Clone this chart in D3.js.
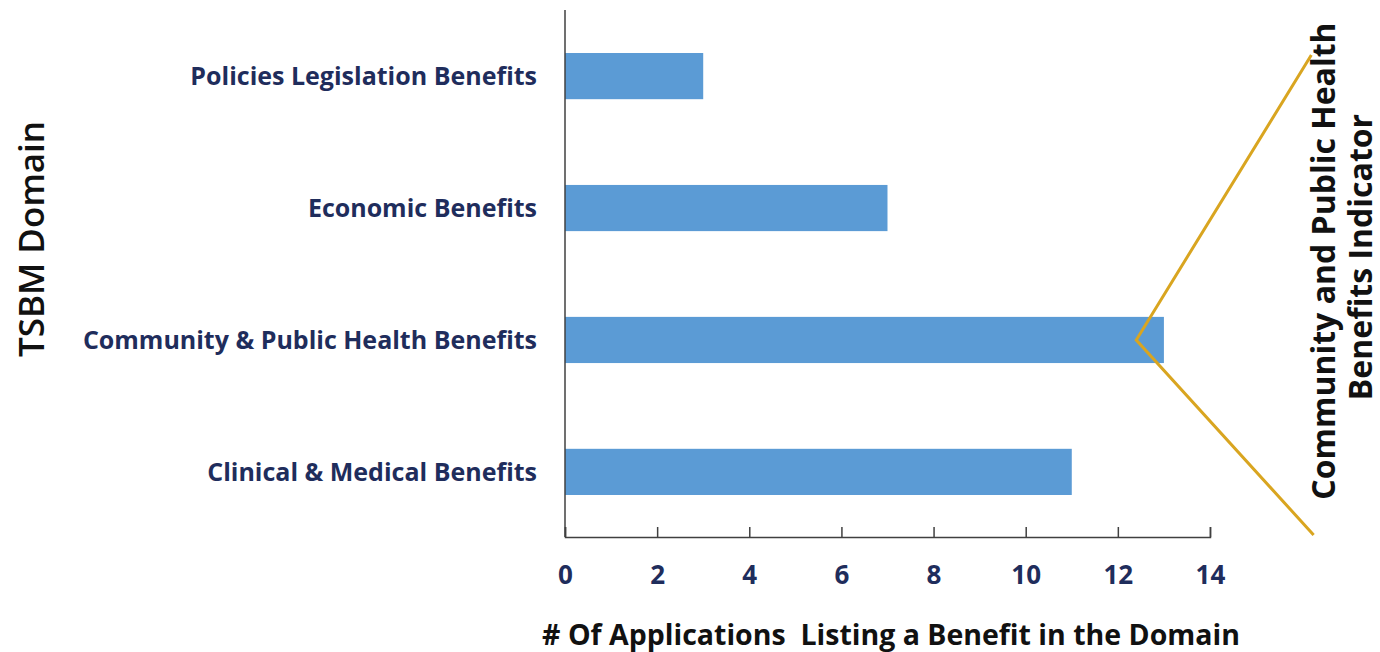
<!DOCTYPE html>
<html>
<head>
<meta charset="utf-8">
<script src="https://cdn.jsdelivr.net/npm/d3@7"></script>
<style>
  body { margin: 0; background: #fff; }
  text { font-family: "Open Sans", Lato, sans-serif; }
</style>
</head>
<body>
<svg id="chart"></svg>
<script>
var categories = ["Policies Legislation Benefits", "Economic Benefits",
                  "Community & Public Health Benefits", "Clinical & Medical Benefits"];
var counts = [3, 7, 13, 11];
var xTicks = [0, 2, 4, 6, 8, 10, 12, 14];
var calloutLines = ["Community and Public Health", "Benefits Indicator"];

var width = 1380, height = 652;
var margin = {top: 10, right: 170, bottom: 114, left: 565};

var svg = d3.select("svg#chart")
            .attr("width", width)
            .attr("height", height);

var x = d3.scaleLinear().domain([0, 14]).range([margin.left, margin.left + 14 * 46.07]);
var y = d3.scaleBand().domain(categories)
          .range([margin.top, 538])
          .paddingInner(0.65).paddingOuter(0.326);

var axisY = height - margin.bottom - 1;

// bars
svg.selectAll(".bar")
   .data(categories)
   .enter().append("rect")
   .attr("class", "bar")
   .attr("x", x(0))
   .attr("y", function(d) { return y(d); })
   .attr("width", function(d, i) { return x(counts[i]) - x(0); })
   .attr("height", y.bandwidth())
   .attr("fill", "#5b9bd5");

// x axis, ticks point upward
var xAxis = svg.append("g")
   .attr("transform", "translate(0," + axisY + ")")
   .call(d3.axisBottom(x).tickValues(xTicks).tickSizeInner(-10).tickSizeOuter(-10).tickPadding(29));
xAxis.select(".domain").attr("stroke", "#404040").attr("stroke-width", 1.5);
xAxis.selectAll(".tick line").attr("stroke", "#404040").attr("stroke-width", 1.5);
xAxis.selectAll(".tick text")
     .attr("fill", "#1f2d5c")
     .attr("font-size", 26)
     .attr("font-weight", "bold");

// y axis line only
svg.append("line")
   .attr("x1", x(0)).attr("x2", x(0))
   .attr("y1", margin.top).attr("y2", axisY)
   .attr("stroke", "#404040").attr("stroke-width", 1.5);

// category labels
svg.selectAll(".cat")
   .data(categories)
   .enter().append("text")
   .attr("class", "cat")
   .attr("x", x(0) - 28)
   .attr("y", function(d) { return y(d) + y.bandwidth() / 2; })
   .attr("dy", "0.35em")
   .attr("text-anchor", "end")
   .attr("fill", "#1f2d5c")
   .attr("font-size", 25)
   .attr("font-weight", "bold")
   .text(function(d) { return d; });

// axis titles
svg.append("text")
   .attr("transform", "translate(44," + 239 + ") rotate(-90)")
   .attr("text-anchor", "middle")
   .attr("font-size", 35)
   .attr("font-weight", 600)
   .attr("fill", "#111")
   .text("TSBM Domain");

svg.append("text")
   .attr("x", 891)
   .attr("y", 645)
   .attr("text-anchor", "middle")
   .attr("font-size", 28.5)
   .attr("font-weight", "bold")
   .attr("fill", "#111")
   .style("white-space", "pre")
   .text("# Of Applications  Listing a Benefit in the Domain");

// callout for the community bar
var cy = y("Community & Public Health Benefits") + y.bandwidth() / 2;
var callout = [[x(16.2), margin.top + 45], [x(12.4), cy], [x(16.25), axisY - 2]];
svg.append("path")
   .attr("d", d3.line()(callout))
   .attr("fill", "none")
   .attr("stroke", "#d9a520")
   .attr("stroke-width", 3);

svg.selectAll(".callout")
   .data(calloutLines)
   .enter().append("text")
   .attr("class", "callout")
   .attr("transform", function(d, i) {
     return "translate(" + (1335 + i * 37) + "," + (261 - i * 4) + ") rotate(-90)";
   })
   .attr("text-anchor", "middle")
   .attr("font-size", 32)
   .attr("font-weight", "bold")
   .attr("fill", "#111")
   .text(function(d) { return d; });
</script>
</body>
</html>
